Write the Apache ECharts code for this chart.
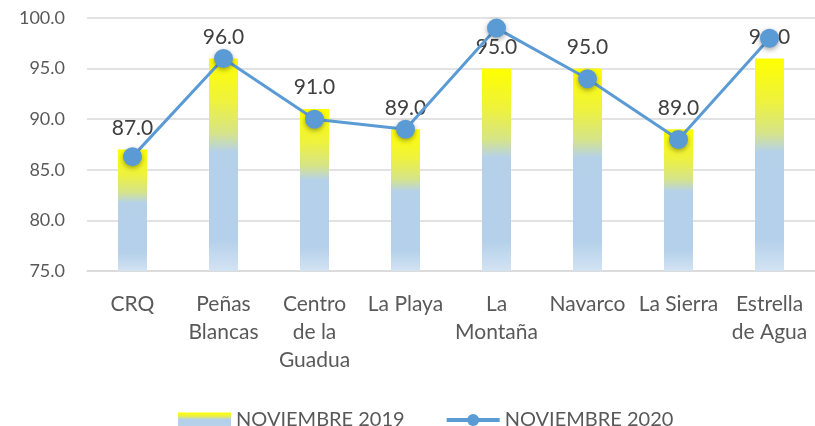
<!DOCTYPE html>
<html>
<head>
<meta charset="utf-8">
<script src="https://cdn.jsdelivr.net/npm/echarts@6/dist/echarts.min.js"></script>
<style>
  html, body { margin: 0; padding: 0; background: #fff; }
  #chart { width: 815px; height: 426px; }
</style>
</head>
<body>
<div id="chart"></div>
<script>
const categories = ['CRQ', 'Peñas\nBlancas', 'Centro\nde la\nGuadua', 'La Playa', 'La\nMontaña', 'Navarco', 'La Sierra', 'Estrella\nde Agua'];
const nov2019 = [87, 96, 91, 89, 95, 95, 89, 96];
const nov2020 = [86.3, 96, 90, 89, 99, 94, 88, 98];
const yTicks = { min: 75, max: 100, interval: 5 };

const font = 'Lato, "Open Sans", sans-serif';

const barGradient = new echarts.graphic.LinearGradient(0, 0, 0, 1, [
  { offset: 0, color: '#ffff00' },
  { offset: 0.2, color: '#eef23c' },
  { offset: 0.35, color: '#d6e488' },
  { offset: 0.44, color: '#b5d1ea' },
  { offset: 0.85, color: '#b4d0ea' },
  { offset: 1, color: '#d3e3f3' }
]);

const chart = echarts.init(document.getElementById('chart'));
chart.setOption({
  animation: false,
  textStyle: { fontFamily: font },
  grid: { left: 87, right: 0, top: 18, bottom: 155 },
  legend: {
    top: 405,
    left: 173,
    itemGap: 40,
    itemWidth: 53,
    itemHeight: 15,
    lineStyle: { width: 4 },
    textStyle: { color: '#595959', fontSize: 20, fontFamily: font },
    data: [
      { name: 'NOVIEMBRE 2019', icon: 'rect' },
      { name: 'NOVIEMBRE 2020' }
    ]
  },
  xAxis: {
    type: 'category',
    data: categories,
    axisLine: { lineStyle: { color: '#d9d9d9', width: 1.5 } },
    axisTick: { show: false },
    axisLabel: { color: '#595959', fontSize: 21, lineHeight: 28, margin: 19, interval: 0 }
  },
  yAxis: {
    type: 'value',
    min: yTicks.min,
    max: yTicks.max,
    interval: yTicks.interval,
    axisLine: { show: false },
    axisTick: { show: false },
    axisLabel: { color: '#595959', fontSize: 18, margin: 22, formatter: v => v.toFixed(1) },
    splitLine: { lineStyle: { color: '#d9d9d9', width: 1.5 } }
  },
  series: [
    {
      name: 'NOVIEMBRE 2019',
      type: 'bar',
      data: nov2019,
      barWidth: 29,
      itemStyle: { color: barGradient },
      label: {
        show: true,
        position: 'top',
        distance: 11,
        color: '#404040',
        fontSize: 21,
        formatter: p => p.value.toFixed(1)
      }
    },
    {
      name: 'NOVIEMBRE 2020',
      type: 'line',
      data: nov2020,
      symbol: 'circle',
      symbolSize: 19,
      lineStyle: { color: '#5b9bd5', width: 3 },
      itemStyle: {
        color: '#5b9bd5',
        shadowColor: 'rgba(0,0,0,0.35)',
        shadowBlur: 5,
        shadowOffsetY: 2
      },
      z: 3
    }
  ]
});
</script>
</body>
</html>
